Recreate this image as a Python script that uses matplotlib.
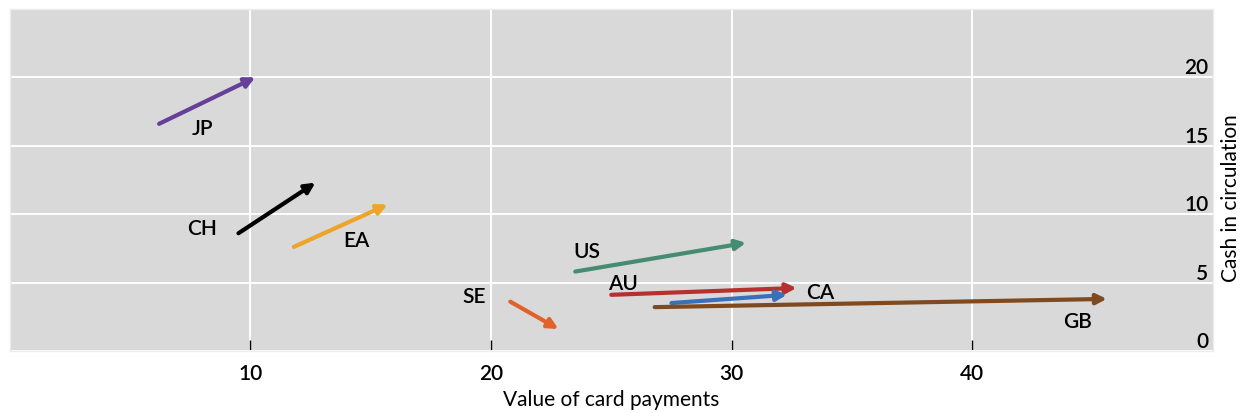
import matplotlib
matplotlib.use("Agg")
import matplotlib.pyplot as plt

plt.rcParams['font.family'] = ['Lato', 'DejaVu Sans']
plt.rcParams['font.weight'] = 'semibold'

# arrows: start (x0, y0) -> end (x1, y1) ; card payments vs cash in circulation
codes = ["JP", "CH", "EA", "US", "AU", "CA", "GB", "SE"]
x_start = [6.2, 9.5, 11.8, 23.5, 25.0, 27.5, 26.8, 20.8]
y_start = [16.6, 8.6, 7.6, 5.8, 4.1, 3.5, 3.2, 3.6]
x_end = [10.2, 12.7, 15.7, 30.6, 32.7, 32.3, 45.6, 22.8]
y_end = [20.0, 12.3, 10.7, 7.9, 4.6, 4.1, 3.8, 1.6]
colors = ["#663f99", "#000000", "#eea429", "#458c72",
          "#b5302f", "#3a6fba", "#7f4a20", "#e0622a"]
# label anchor positions
lab_x = [8.0, 8.0, 14.4, 24.0, 25.5, 33.7, 44.4, 19.3]
lab_y = [16.3, 9.0, 8.1, 7.3, 5.0, 4.3, 2.2, 4.0]

xticks = [10, 20, 30, 40]
yticks = [0, 5, 10, 15, 20]
fs = 15

fig = plt.figure(figsize=(12.4, 4.14), dpi=100)
ax = fig.add_axes([0.008, 0.15, 0.970, 0.826])
ax.set_facecolor("#d9d9d9")
ax.set_xlim(0, 50)
ax.set_ylim(0, 25)

ax.set_xticks(xticks)
ax.set_yticks(yticks)
ax.grid(True, color="white", lw=1.4)
ax.set_axisbelow(True)
for s in ax.spines.values():
    s.set_color("#ececec")
    s.set_linewidth(1.0)

ax.tick_params(axis='x', direction='in', length=8, width=1.0, color='black',
               labelsize=fs, pad=9)
ax.yaxis.tick_right()
ax.tick_params(axis='y', length=0, labelsize=fs, pad=-3)
for lbl in ax.get_yticklabels():
    lbl.set_horizontalalignment('right')
    lbl.set_verticalalignment('bottom')

for i in range(len(codes)):
    ax.annotate("", xy=(x_end[i], y_end[i]), xytext=(x_start[i], y_start[i]),
                arrowprops=dict(arrowstyle='-|>', color=colors[i], lw=3.0,
                                mutation_scale=15, shrinkA=0, shrinkB=0))
    ax.text(lab_x[i], lab_y[i], codes[i], fontsize=fs, ha='center',
            va='center', color='black')

ax.set_xlabel("Value of card payments", fontsize=fs, labelpad=4)
ax.yaxis.set_label_position('right')
ax.set_ylabel("Cash in circulation", fontsize=fs, labelpad=6)
ax.yaxis.label.set_y(0.45)

fig.savefig("out.png", dpi=100)
